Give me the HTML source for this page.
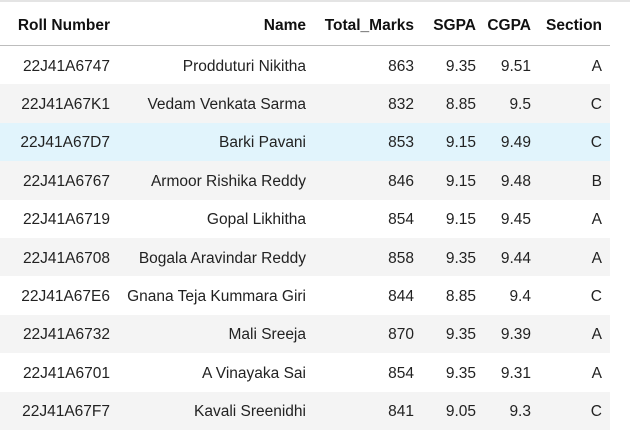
<!DOCTYPE html>
<html><head><meta charset="utf-8"><style>
html,body{margin:0;padding:0;background:#fff;width:630px;height:429px;overflow:hidden;font-family:"Liberation Sans",sans-serif;color:#222;}
#top{position:absolute;left:0;top:0;width:630px;height:2px;background:#e4e4e4;}
table{position:absolute;left:0;top:7px;border-collapse:collapse;width:610px;font-size:15.5px;}
th{font-weight:bold;text-align:right;height:38px;padding:0 8px 0 0;border-bottom:1.5px solid #bdbdbd;color:#111;}
td{text-align:right;height:35.4px;padding:3px 8px 0 0;}
tbody tr:nth-child(even){background:#f4f4f4;}
tbody tr.hl{background:#e1f4fc;}
</style></head><body>
<div id="top"></div>
<table>
<colgroup><col style="width:118px"><col style="width:196px"><col style="width:108px"><col style="width:62px"><col style="width:55px"><col style="width:71px"></colgroup>
<thead><tr>
<th>Roll Number</th>
<th>Name</th>
<th>Total_Marks</th>
<th>SGPA</th>
<th>CGPA</th>
<th>Section</th>
</tr></thead>
<tbody>
<tr><td>22J41A6747</td><td>Prodduturi Nikitha</td><td>863</td><td>9.35</td><td>9.51</td><td>A</td></tr>
<tr><td>22J41A67K1</td><td>Vedam Venkata Sarma</td><td>832</td><td>8.85</td><td>9.5</td><td>C</td></tr>
<tr class="hl"><td>22J41A67D7</td><td>Barki Pavani</td><td>853</td><td>9.15</td><td>9.49</td><td>C</td></tr>
<tr><td>22J41A6767</td><td>Armoor Rishika Reddy</td><td>846</td><td>9.15</td><td>9.48</td><td>B</td></tr>
<tr><td>22J41A6719</td><td>Gopal Likhitha</td><td>854</td><td>9.15</td><td>9.45</td><td>A</td></tr>
<tr><td>22J41A6708</td><td>Bogala Aravindar Reddy</td><td>858</td><td>9.35</td><td>9.44</td><td>A</td></tr>
<tr><td>22J41A67E6</td><td>Gnana Teja Kummara Giri</td><td>844</td><td>8.85</td><td>9.4</td><td>C</td></tr>
<tr><td>22J41A6732</td><td>Mali Sreeja</td><td>870</td><td>9.35</td><td>9.39</td><td>A</td></tr>
<tr><td>22J41A6701</td><td>A Vinayaka Sai</td><td>854</td><td>9.35</td><td>9.31</td><td>A</td></tr>
<tr><td>22J41A67F7</td><td>Kavali Sreenidhi</td><td>841</td><td>9.05</td><td>9.3</td><td>C</td></tr>
</tbody></table>
</body></html>
